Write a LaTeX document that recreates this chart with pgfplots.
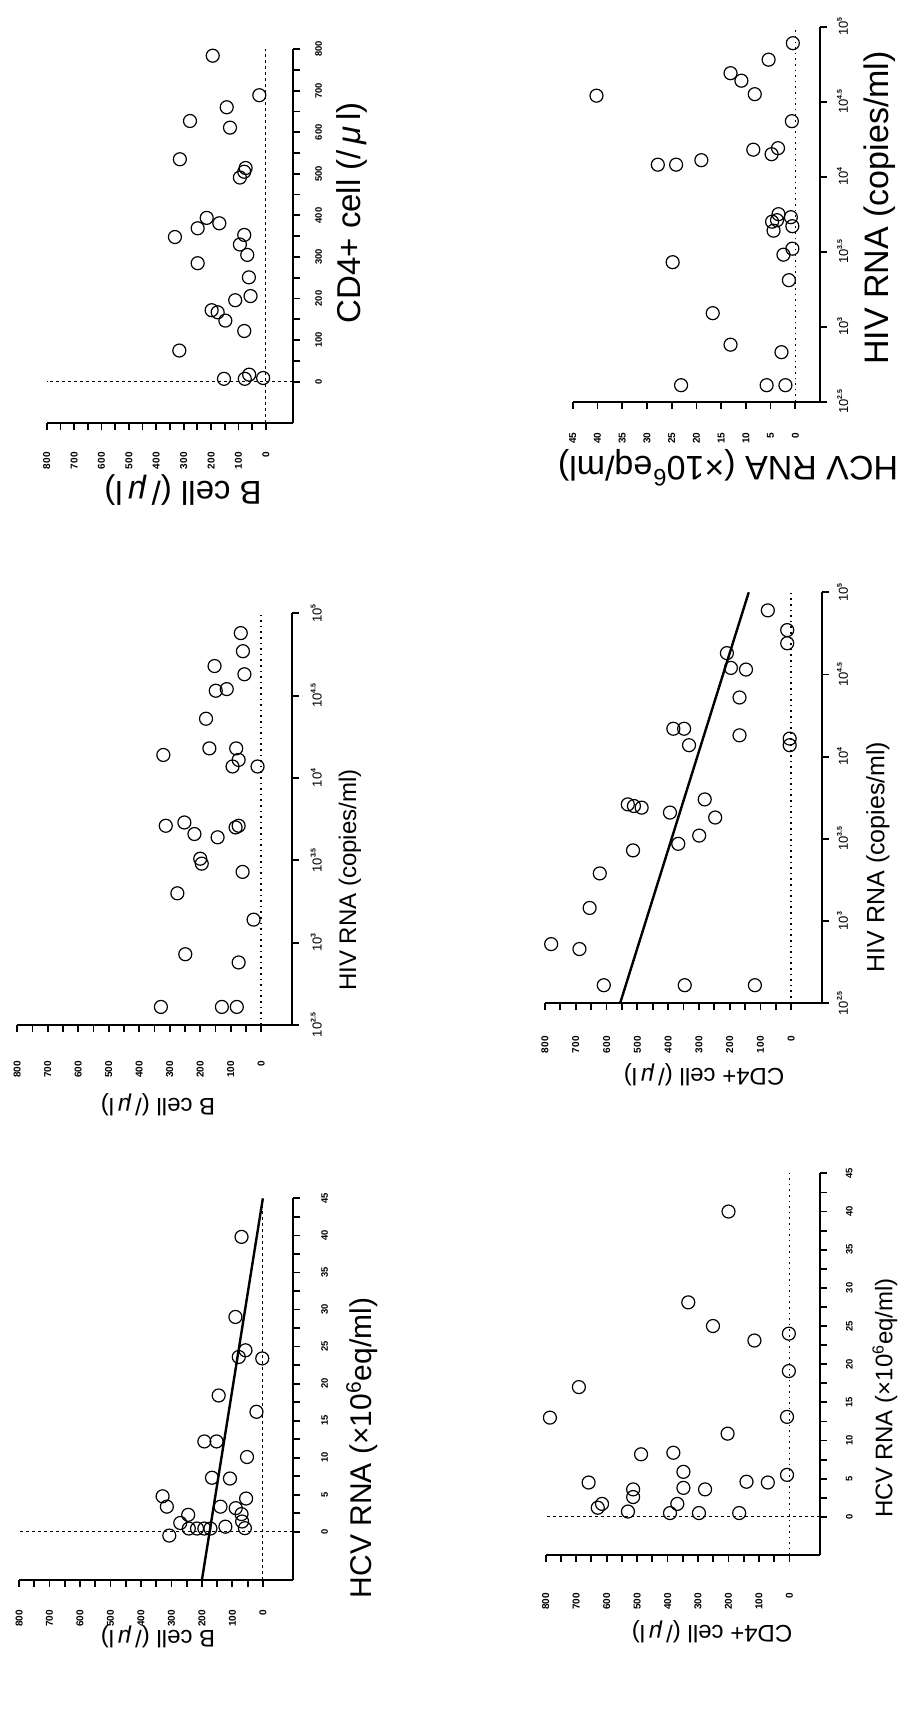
\documentclass[border=0pt]{standalone}
\usepackage{fontspec}
\setmainfont{Liberation Sans}
\usepackage{pgfplots}
\usepackage{pgfplotstable}
\pgfplotsset{compat=1.18}

% tick label fonts
\newcommand\tkf{\fontsize{5}{6}\selectfont\bfseries}
\newcommand\tkfr{\fontsize{4.7}{5.5}\selectfont\bfseries}
\newcommand\hivl[1]{{\fontsize{6.5}{8}\selectfont\mdseries 10}\raisebox{3pt}{\fontsize{3.5}{4}\selectfont\bfseries #1}}
\newcommand\ul{(/\,\textit{μ}\,l)}

% the page is printed turned a quarter turn: image x = y variable (reversed), image y = x variable
\pgfplotstableread{
bcell cd4
194 784
24 689
143 660
277 627
131 611
314 535
74 514
79 505
95 491
216 394
249 369
170 381
332 348
79 353
95 330
68 305
249 285
62 251
56 206
112 196
198 172
176 167
148 147
79 122
316 75
153 7
77 7
61 17
10 9
}\tabBcd

\pgfplotstableread{
hcv hiv
40.2 4.54
13.1 4.69
10.9 4.64
8.2 4.55
5.4 4.78
0.5 4.89
0.7 4.37
8.5 4.18
3.5 4.19
4.8 4.15
19.0 4.11
24.1 4.08
27.8 4.08
3.4 3.75
3.7 3.71
4.7 3.70
4.4 3.64
0.9 3.73
0.6 3.67
0.6 3.52
2.4 3.48
24.8 3.43
1.3 3.31
16.7 3.09
13.1 2.88
2.8 2.83
23.1 2.61
5.8 2.61
2.0 2.61
}\tabHh

\pgfplotstableread{
bcell hiv
67 4.88
60 4.77
55 4.63
153 4.68
149 4.53
113 4.54
181 4.36
170 4.18
82 4.18
74 4.11
94 4.07
12 4.07
321 4.14
313 3.71
252 3.73
219 3.66
143 3.64
84 3.70
74 3.71
200 3.51
195 3.48
61 3.43
275 3.30
25 3.14
249 2.93
74 2.88
329 2.61
129 2.61
80 2.61
}\tabBh

\pgfplotstableread{
cd4 hiv
76 4.89
13 4.77
13 4.69
209 4.63
196 4.54
147 4.53
168 4.36
168 4.13
5 4.11
5 4.07
383 4.17
348 4.17
332 4.07
531 3.71
511 3.70
486 3.69
394 3.66
281 3.74
247 3.63
299 3.52
367 3.47
514 3.43
622 3.29
655 3.08
780 2.86
688 2.83
609 2.61
346 2.61
118 2.61
}\tabCh

\pgfplotstableread{
bcell hcv
70 39.8
90 29.0
57 24.5
2 23.4
79 23.6
145 18.4
21 16.2
192 12.2
152 12.2
52 10.1
167 7.3
108 7.2
329 4.8
315 3.4
245 2.3
139 3.4
89 3.2
55 4.5
70 2.4
68 1.4
123 0.7
243 0.45
271 1.2
307 -0.5
216 0.45
192 0.45
172 0.45
59 0.5
}\tabBc

\pgfplotstableread{
cd4 hcv
200 40.0
332 28.1
251 25.0
115 23.1
2 24.0
2 19.1
691 17.0
786 13.0
8 13.1
203 10.9
487 8.2
381 8.4
348 5.9
8 5.5
659 4.5
141 4.6
71 4.5
513 3.6
513 2.6
348 3.8
277 3.6
615 1.7
629 1.2
368 1.7
530 0.7
392 0.5
297 0.5
165 0.5
}\tabCc

\tikzset{
  refdash/.style={black, line width=0.5pt, dash pattern=on 1.5pt off 1.5pt},
  refdot/.style={black, line width=0.8pt, dash pattern=on 0.8pt off 2pt},
  fitline/.style={black, line width=1.2pt},
}

\pgfplotsset{
  panel/.style={
    scale only axis, anchor=center, clip=false,
    x dir=reverse,
    axis x line*=bottom, axis y line*=right,
    axis line style={line width=1.1pt, -},
    tick style={black, line width=0.9pt},
    tick align=outside,
    major tick length=3.5pt, minor tick length=3.5pt,
    xticklabel style={rotate=90, anchor=east, font=\tkf},
    yticklabel style={rotate=90, anchor=north, font=\tkfr},
  },
  cellx/.style={xmin=-100, xmax=800, xtick={0,100,...,800},
    xticklabels={0,100,200,300,400,500,600,700,800}, minor xtick={50,150,...,750}},
  celly/.style={ymin=-100, ymax=800, ytick={0,100,...,800},
    yticklabels={0,100,200,300,400,500,600,700,800}, minor ytick={50,150,...,750}},
  hivy/.style={ymin=2.5, ymax=5, ytick={2.5,3,...,5},
    yticklabels={\hivl{2.5},\hivl{3},\hivl{3.5},\hivl{4},\hivl{4.5},\hivl{5}}},
  hcvy/.style={ytick={0,5,...,45}, yticklabels={0,5,10,15,20,25,30,35,40,45},
    minor ytick={2.5,7.5,...,42.5}},
  dots/.style={only marks, mark=o, mark size=3.25pt, mark options={line width=0.6pt, black}},
}

\begin{document}
\begin{tikzpicture}
\useasboundingbox (0,0) rectangle (452pt,854.5pt);

% B cell vs CD4+
\begin{axis}[panel, cellx, celly, width=123.3pt, height=187.15pt, at={(85pt,736.4pt)},
  xticklabel shift=7.5pt, yticklabel shift=4pt]
\draw[refdash] (axis cs:0,-100) -- (axis cs:0,800);
\draw[refdash] (axis cs:-100,0) -- (axis cs:800,0);
\addplot[dots] table[x=bcell, y=cd4] {\tabBcd};
\end{axis}

% HCV RNA vs HIV RNA
\begin{axis}[panel, hivy, xmin=-5, xmax=45, xtick={0,5,...,45},
  xticklabels={0,5,10,15,20,25,30,35,40,45},
  width=123.65pt, height=187.5pt, at={(348.2pt,747.4pt)},
  xticklabel shift=8.5pt, yticklabel shift=1.5pt]
\draw[refdot] (axis cs:0,2.5) -- (axis cs:0,5);
\addplot[dots] table[x=hcv, y=hiv] {\tabHh};
\end{axis}

% B cell vs HIV RNA
\begin{axis}[panel, cellx, hivy, width=137.2pt, height=205.85pt, at={(77.25pt,444.9pt)},
  xticklabel shift=11pt, yticklabel shift=2.5pt]
\draw[refdot] (axis cs:0,2.5) -- (axis cs:0,5);
\addplot[dots] table[x=bcell, y=hiv] {\tabBh};
\end{axis}

% CD4+ vs HIV RNA
\begin{axis}[panel, cellx, hivy, width=138.5pt, height=205.5pt, at={(341.75pt,455.6pt)},
  xticklabel shift=9.5pt, yticklabel shift=0.5pt]
\draw[refdot] (axis cs:0,2.5) -- (axis cs:0,5);
\addplot[dots] table[x=cd4, y=hiv] {\tabCh};
\addplot[fitline] coordinates {(556,2.5) (138,5)};
\end{axis}

% B cell vs HCV RNA
\begin{axis}[panel, cellx, hcvy, ymin=-6.5, ymax=45, width=137.15pt, height=190.85pt, at={(78.1pt,159.9pt)},
  xticklabel shift=8pt, yticklabel shift=7pt]
\draw[refdash] (axis cs:0,-6.5) -- (axis cs:0,45);
\draw[refdash] (axis cs:-100,0) -- (axis cs:800,0);
\addplot[dots] table[x=bcell, y=hcv] {\tabBc};
\addplot[fitline] coordinates {(200,-6.5) (0,45)};
\end{axis}

% CD4+ vs HCV RNA
\begin{axis}[panel, cellx, hcvy, ymin=-5, ymax=45, width=137.15pt, height=190.85pt, at={(341.4pt,172.4pt)},
  xticklabel shift=12pt, yticklabel shift=6pt]
\draw[refdot] (axis cs:0,-5) -- (axis cs:0,45);
\draw[refdash] (axis cs:-100,0) -- (axis cs:800,0);
\addplot[dots] table[x=cd4, y=hcv] {\tabCc};
\end{axis}

% axis titles
\node[rotate=90, font=\fontsize{16.5}{18}\selectfont] at (176pt,748pt) {CD4+ cell \ul};
\node[rotate=180, font=\fontsize{16.5}{18}\selectfont] at (91.5pt,609.5pt) {B cell \ul};
\node[rotate=90, font=\fontsize{17}{19}\selectfont] at (440pt,750.5pt) {HIV RNA (copies/ml)};
\node[rotate=180, font=\fontsize{17}{19}\selectfont] at (364pt,620.5pt) {HCV RNA (×10\textsuperscript{6}eq/ml)};
\node[rotate=90, font=\fontsize{12}{14}\selectfont] at (175pt,414.5pt) {HIV RNA (copies/ml)};
\node[rotate=180, font=\fontsize{12}{14}\selectfont] at (79pt,302pt) {B cell \ul};
\node[rotate=90, font=\fontsize{12.5}{14}\selectfont] at (439pt,426pt) {HIV RNA (copies/ml)};
\node[rotate=180, font=\fontsize{12}{14}\selectfont] at (352pt,317pt) {CD4+ cell \ul};
\node[rotate=90, font=\fontsize{15}{17}\selectfont] at (181pt,130.5pt) {HCV RNA (×10\textsuperscript{6}eq/ml)};
\node[rotate=180, font=\fontsize{12}{14}\selectfont] at (79pt,36pt) {B cell \ul};
\node[rotate=90, font=\fontsize{12}{14}\selectfont] at (442.5pt,155.5pt) {HCV RNA (×10\textsuperscript{6}eq/ml)};
\node[rotate=180, font=\fontsize{12}{14}\selectfont] at (356pt,38.5pt) {CD4+ cell \ul};
\end{tikzpicture}
\end{document}
